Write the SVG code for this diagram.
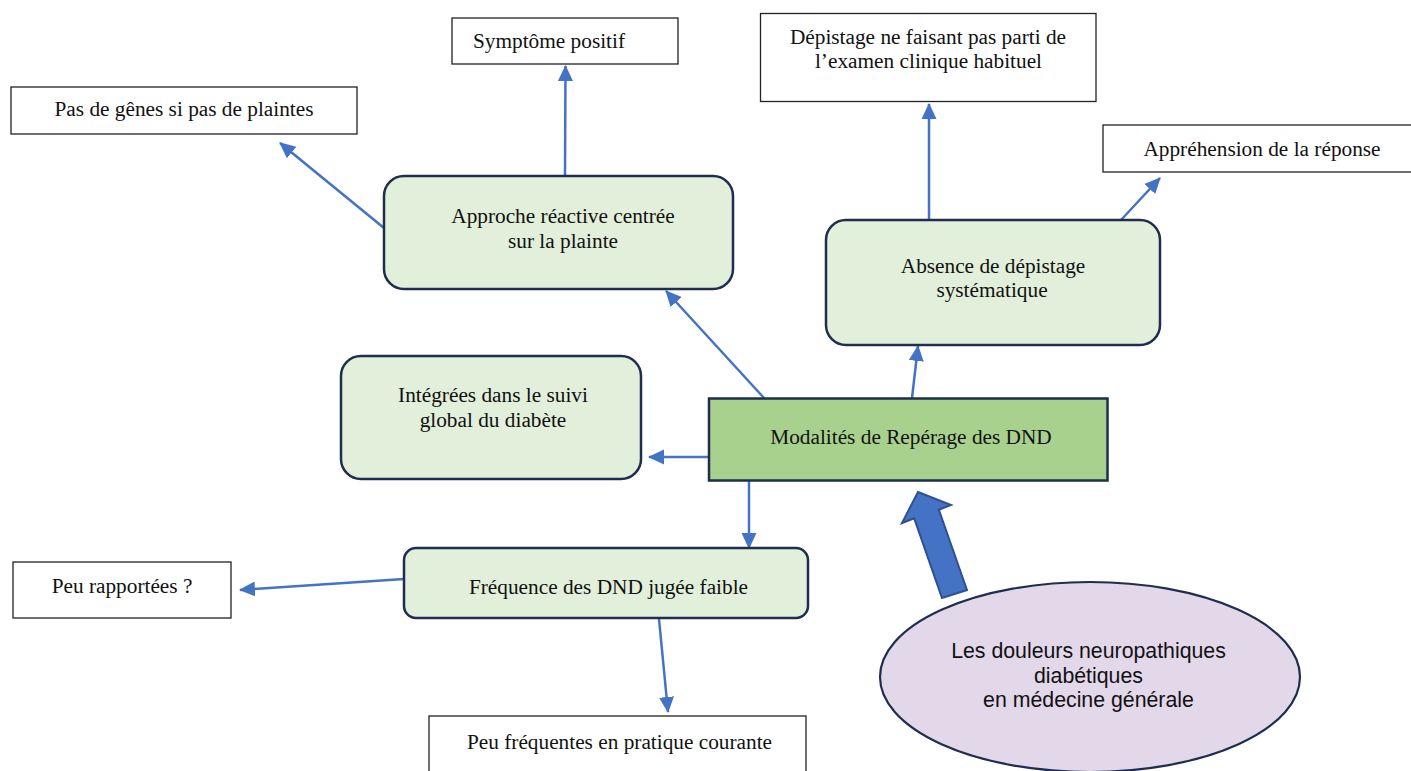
<svg xmlns="http://www.w3.org/2000/svg" width="1411" height="771" viewBox="0 0 1411 771">
<defs>
<style>
.t{font-family:"Liberation Serif","Times New Roman",serif;font-size:21.3px;fill:#111;text-anchor:middle}
.a{font-family:"Liberation Sans",Arial,sans-serif;font-size:21.3px;fill:#111;text-anchor:middle}
.box{fill:#fff;stroke:#222;stroke-width:1.3}
.rbox{fill:#e2efda;stroke:#1f2d4f;stroke-width:2.5}
.conn{stroke:#4472c4;stroke-width:2.5;fill:none;marker-end:url(#ah)}
</style>
<marker id="ah" markerUnits="userSpaceOnUse" markerWidth="16" markerHeight="16" viewBox="0 0 16 16" refX="15" refY="8" orient="auto">
<path d="M0,0.5 L16,8 L0,15.5 Z" fill="#4472c4"/>
</marker>
</defs>
<rect width="1411" height="771" fill="#fff"/>

<g id="connectors">
<line class="conn" x1="565" y1="176" x2="565.5" y2="66"/>
<line class="conn" x1="384" y1="228" x2="280" y2="143"/>
<line class="conn" x1="764" y1="398" x2="666" y2="291"/>
<line class="conn" x1="912" y1="398" x2="918" y2="346"/>
<line class="conn" x1="929" y1="220" x2="929" y2="104"/>
<line class="conn" x1="1121" y1="220" x2="1160" y2="178"/>
<line class="conn" x1="709" y1="457" x2="649" y2="457"/>
<line class="conn" x1="749" y1="481" x2="749" y2="548"/>
<line class="conn" x1="404" y1="579" x2="240" y2="590"/>
<line class="conn" x1="659" y1="619" x2="668" y2="712"/>
<polygon points="918,492 951,505 938.8,509.7 967,590 942,598 914.2,518.3 902,523" fill="#4472c4" stroke="#2f528f" stroke-width="2" stroke-linejoin="miter"/>
</g>

<g id="symptome">
<rect class="box" x="452" y="18" width="226" height="46"/>
<text class="t" x="549" y="48">Symptôme positif</text>
</g>

<g id="pasdegenes">
<rect class="box" x="11" y="87" width="346" height="47"/>
<text class="t" x="184" y="116">Pas de gênes si pas de plaintes</text>
</g>

<g id="depistage">
<rect class="box" x="760.5" y="13.5" width="335.5" height="88"/>
<text class="t" x="928" y="44">Dépistage ne faisant pas parti de</text>
<text class="t" x="928.5" y="68">l’examen clinique habituel</text>
</g>

<g id="apprehension">
<rect class="box" x="1103" y="125" width="320" height="47"/>
<text class="t" x="1262" y="156">Appréhension de la réponse</text>
</g>

<g id="approche">
<rect class="rbox" x="384" y="176" width="349" height="113" rx="20"/>
<text class="t" x="563" y="223">Approche réactive centrée</text>
<text class="t" x="563" y="248">sur la plainte</text>
</g>

<g id="absence">
<rect class="rbox" x="826" y="220" width="334" height="125" rx="20"/>
<text class="t" x="993" y="273">Absence de dépistage</text>
<text class="t" x="992" y="297">systématique</text>
</g>

<g id="integrees">
<rect class="rbox" x="341" y="356" width="300" height="123" rx="20"/>
<text class="t" x="493" y="402">Intégrées dans le suivi</text>
<text class="t" x="493" y="427">global du diabète</text>
</g>

<g id="modalites">
<rect x="709" y="398.5" width="398.5" height="82" fill="#a9d18e" stroke="#1f2d4f" stroke-width="2.5"/>
<text class="t" x="911" y="444">Modalités de Repérage des DND</text>
</g>

<g id="frequence">
<rect class="rbox" x="404" y="548" width="404" height="70" rx="12"/>
<text class="t" x="608.5" y="594">Fréquence des DND jugée faible</text>
</g>

<g id="peurapportees">
<rect class="box" x="13" y="562" width="218" height="56"/>
<text class="t" x="122" y="593">Peu rapportées ?</text>
</g>

<g id="peufrequentes">
<rect class="box" x="429" y="716" width="377" height="60"/>
<text class="t" x="619.5" y="749">Peu fréquentes en pratique courante</text>
</g>

<g id="douleurs">
<ellipse cx="1090" cy="677" rx="210" ry="95" fill="#e3d8ea" stroke="#1f2d4f" stroke-width="2.2"/>
<text class="a" x="1088.5" y="658">Les douleurs neuropathiques</text>
<text class="a" x="1088.5" y="683">diabétiques</text>
<text class="a" x="1088.5" y="707">en médecine générale</text>
</g>
</svg>
